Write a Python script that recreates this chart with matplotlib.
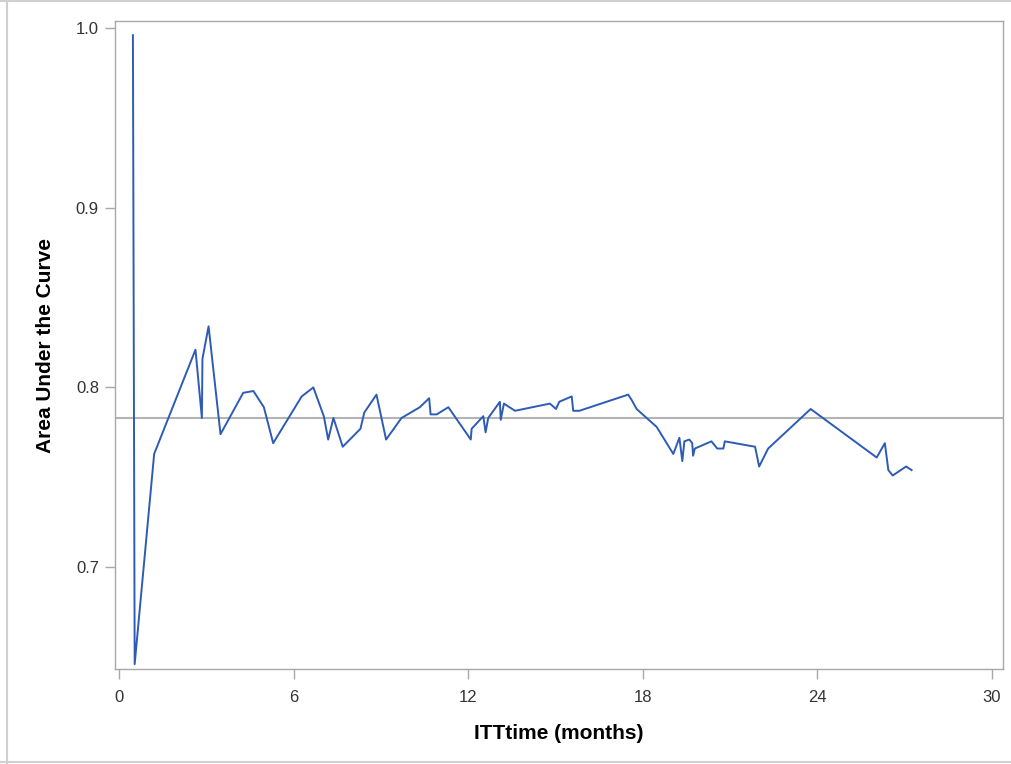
import matplotlib
matplotlib.use("Agg")
import matplotlib.pyplot as plt

# ITT time (months) and AUC values
itt_time = [0.48, 0.54, 1.21, 2.63, 2.85, 2.87, 3.08, 3.49, 4.27, 4.62, 4.98, 5.30,
            6.28, 6.68, 7.04, 7.19, 7.37, 7.69, 8.30, 8.43, 8.85, 9.18, 9.71, 10.34,
            10.66, 10.71, 10.92, 11.32, 12.09, 12.12, 12.52, 12.60, 12.69, 13.09, 13.12,
            13.23, 13.61, 14.81, 15.02, 15.13, 15.56, 15.61, 15.82, 17.50, 17.62, 17.79,
            18.48, 19.05, 19.26, 19.36, 19.43, 19.60, 19.70, 19.73, 19.79, 20.36, 20.56,
            20.77, 20.82, 21.86, 22.00, 22.31, 23.77, 26.04, 26.32, 26.44, 26.59, 27.05,
            27.24]
auc = [0.996, 0.646, 0.763, 0.821, 0.783, 0.816, 0.834, 0.774, 0.797, 0.798, 0.789, 0.769,
       0.795, 0.800, 0.784, 0.771, 0.783, 0.767, 0.777, 0.786, 0.796, 0.771, 0.783, 0.789,
       0.794, 0.785, 0.785, 0.789, 0.771, 0.777, 0.784, 0.775, 0.783, 0.792, 0.782,
       0.791, 0.787, 0.791, 0.788, 0.792, 0.795, 0.787, 0.787, 0.796, 0.793, 0.788,
       0.778, 0.763, 0.772, 0.759, 0.770, 0.771, 0.769, 0.762, 0.766, 0.770, 0.766,
       0.766, 0.770, 0.767, 0.756, 0.766, 0.788, 0.761, 0.769, 0.754, 0.751, 0.756,
       0.754]
ref_auc = 0.783
x_ticks = [0, 6, 12, 18, 24, 30]
y_ticks = [0.7, 0.8, 0.9, 1.0]
y_ticklabels = ["0.7", "0.8", "0.9", "1.0"]

plt.rcParams['font.family'] = ['Liberation Sans', 'DejaVu Sans']
fig = plt.figure(figsize=(10.12, 7.64), dpi=100)
ax = fig.add_axes([0.1136, 0.1243, 0.8775, 0.8482])

gray = "#a8a8a8"
ax.axhline(ref_auc, color="#b4b4b4", lw=1.5, zorder=1)
ax.plot(itt_time, auc, color="#2d5bb5", lw=1.4, zorder=2)

ax.set_xlim(-0.137, 30.38)
ax.set_ylim(0.6433, 1.0039)
ax.set_xticks(x_ticks)
ax.set_yticks(y_ticks)
ax.set_yticklabels(y_ticklabels)
ax.tick_params(direction="out", length=7, width=1, color=gray, labelsize=12,
               labelcolor="#333333", pad=4.5)
ax.tick_params(axis="x", pad=8)
for s in ax.spines.values():
    s.set_color(gray)
    s.set_linewidth(1)

ax.set_xlabel("ITTtime (months)", fontsize=15, fontweight="bold", labelpad=14)
ax.set_ylabel("Area Under the Curve", fontsize=15, fontweight="bold", labelpad=15)

# light outer frame of the original graph (left, top, bottom)
edge = "#d0d0d0"
fig.add_artist(plt.Line2D([0.0065, 0.0065], [0.0, 1.0], transform=fig.transFigure, color=edge, lw=1.5))
fig.add_artist(plt.Line2D([0.0, 1.0], [0.999, 0.999], transform=fig.transFigure, color=edge, lw=1.5))
fig.add_artist(plt.Line2D([0.0, 1.0], [0.002, 0.002], transform=fig.transFigure, color=edge, lw=1.5))

plt.savefig("out.png", dpi=100)
